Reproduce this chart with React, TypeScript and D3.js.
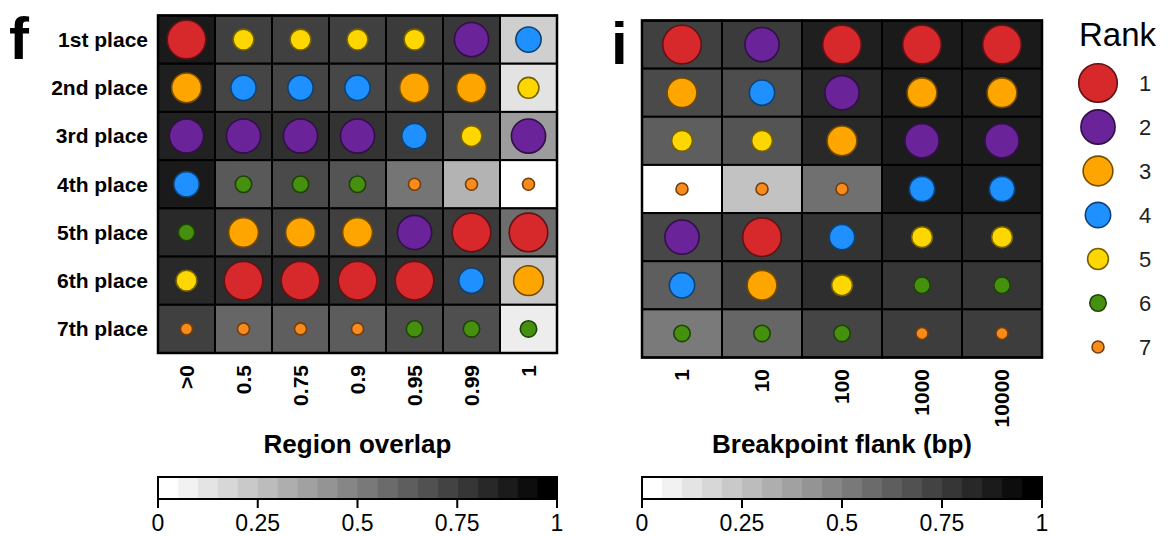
import React from "react";
import * as d3 from "d3";

// row categories (shared by both panels)
const places = ["1st place", "2nd place", "3rd place", "4th place", "5th place", "6th place", "7th place"];

// panel f: region overlap thresholds
const overlapLevels = [">0", "0.5", "0.75", "0.9", "0.95", "0.99", "1"];
// rank shown in each cell, one array per place
const overlapRanks = [
  [1, 5, 5, 5, 5, 2, 4],
  [3, 4, 4, 4, 3, 3, 5],
  [2, 2, 2, 2, 4, 5, 2],
  [4, 6, 6, 6, 7, 7, 7],
  [6, 3, 3, 3, 2, 1, 1],
  [5, 1, 1, 1, 1, 4, 3],
  [7, 7, 7, 7, 6, 6, 6],
];
// cell shading (0 = white, 1 = black)
const overlapShade = [
  [0.9, 0.75, 0.75, 0.75, 0.77, 0.78, 0.19],
  [0.88, 0.73, 0.73, 0.72, 0.75, 0.76, 0.11],
  [0.87, 0.81, 0.81, 0.8, 0.77, 0.68, 0.39],
  [0.9, 0.65, 0.71, 0.67, 0.54, 0.3, 0.0],
  [0.84, 0.75, 0.76, 0.75, 0.79, 0.77, 0.57],
  [0.84, 0.82, 0.83, 0.82, 0.82, 0.75, 0.21],
  [0.75, 0.6, 0.63, 0.64, 0.7, 0.69, 0.07],
];

// panel i: breakpoint flank sizes
const flankLevels = ["1", "10", "100", "1000", "10000"];
const flankRanks = [
  [1, 2, 1, 1, 1],
  [3, 4, 2, 3, 3],
  [5, 5, 3, 2, 2],
  [7, 7, 7, 4, 4],
  [2, 1, 4, 5, 5],
  [4, 3, 5, 6, 6],
  [6, 6, 6, 7, 7],
];
const flankShade = [
  [0.75, 0.77, 0.88, 0.9, 0.9],
  [0.71, 0.7, 0.84, 0.89, 0.89],
  [0.63, 0.67, 0.84, 0.89, 0.89],
  [0.0, 0.24, 0.56, 0.89, 0.89],
  [0.72, 0.76, 0.8, 0.84, 0.84],
  [0.63, 0.75, 0.82, 0.79, 0.79],
  [0.52, 0.6, 0.73, 0.76, 0.76],
];

const ranks = [1, 2, 3, 4, 5, 6, 7];
const rankColors = ["#d7282b", "#6a2399", "#ffa500", "#1e90ff", "#ffd700", "#45900f", "#f98a1c"];
const colorbarTicks = [0, 0.25, 0.5, 0.75, 1];

const FONT = "'Liberation Sans', Arial, Helvetica, sans-serif";
const W = 1169;
const H = 536;

// 20 step white->black colour key
const nSteps = 20;
const grays = d3.range(nSteps).map((i) => d3.interpolateRgb("#ffffff", "#000000")(i / (nSteps - 1)));
const shade = d3.scaleLinear<string>().domain([0, 1]).range(["#ffffff", "#000000"]);

const radius = d3.scaleLinear().domain([1, 7]).range([19.3, 6]);
const fill = d3.scaleOrdinal<number, string>().domain(ranks).range(rankColors);
const strokeOf = (r: number) => d3.color(fill(r))!.darker(2.2).formatHex();

type PanelProps = {
  cols: string[];
  rankRows: number[][];
  shadeRows: number[][];
  x0: number;
  x1: number;
  y0: number;
  y1: number;
  letter: string;
  letterX: number;
  showRows: boolean;
  title: string;
  tickTop: number;
};

function Panel(p: PanelProps) {
  const x = d3.scaleBand<string>().domain(p.cols).range([p.x0, p.x1]);
  const y = d3.scaleBand<string>().domain(places).range([p.y0, p.y1]);
  const cb = d3.scaleLinear().domain([0, 1]).range([p.x0, p.x1]);
  const cbTop = 477;
  const cbBot = 499;
  const stepW = (p.x1 - p.x0) / nSteps;
  return (
    <g>
      <text x={p.letterX} y={p.y0 + 43} fontSize={60} fontWeight="bold" fontFamily={FONT}>
        {p.letter}
      </text>
      {places.map((pl, i) =>
        p.cols.map((c, j) => (
          <rect
            key={pl + c}
            x={x(c)}
            y={y(pl)}
            width={x.bandwidth()}
            height={y.bandwidth()}
            fill={shade(p.shadeRows[i][j])}
            stroke="#000"
            strokeWidth={2}
          />
        ))
      )}
      <rect x={p.x0} y={p.y0} width={p.x1 - p.x0} height={p.y1 - p.y0} fill="none" stroke="#000" strokeWidth={2.5} />
      {places.map((pl, i) =>
        p.cols.map((c, j) => {
          const r = p.rankRows[i][j];
          return (
            <circle
              key={"c" + pl + c}
              cx={x(c)! + x.bandwidth() / 2}
              cy={y(pl)! + y.bandwidth() / 2}
              r={radius(r)}
              fill={fill(r)}
              stroke={strokeOf(r)}
              strokeWidth={1.6}
            />
          );
        })
      )}
      {p.showRows &&
        places.map((pl) => (
          <text
            key={"l" + pl}
            x={148}
            y={y(pl)! + y.bandwidth() / 2}
            dy="0.35em"
            textAnchor="end"
            fontSize={21}
            fontWeight="bold"
            fontFamily={FONT}
          >
            {pl}
          </text>
        ))}
      {p.cols.map((c) => (
        <text
          key={"t" + c}
          transform={`translate(${x(c)! + x.bandwidth() / 2},${p.tickTop}) rotate(-90)`}
          textAnchor="end"
          dy="0.35em"
          fontSize={21}
          fontWeight="bold"
          fontFamily={FONT}
        >
          {c}
        </text>
      ))}
      <text x={(p.x0 + p.x1) / 2} y={453} textAnchor="middle" fontSize={26} fontWeight="bold" fontFamily={FONT}>
        {p.title}
      </text>
      {grays.map((g, k) => (
        <rect key={"cb" + k} x={p.x0 + k * stepW} y={cbTop} width={stepW + 0.5} height={cbBot - cbTop} fill={g} />
      ))}
      <rect x={p.x0} y={cbTop} width={p.x1 - p.x0} height={cbBot - cbTop} fill="none" stroke="#000" strokeWidth={2} />
      {colorbarTicks.map((t) => (
        <g key={"ct" + t}>
          <line x1={cb(t)} x2={cb(t)} y1={cbBot} y2={cbBot + 9} stroke="#000" strokeWidth={2} />
          <text x={cb(t)} y={531} textAnchor="middle" fontSize={23} fontFamily={FONT}>
            {String(t)}
          </text>
        </g>
      ))}
    </g>
  );
}

function Legend() {
  const ly = d3.scalePoint<number>().domain(ranks).range([83, 347]);
  return (
    <g>
      <text x={1079} y={46} fontSize={33} fontFamily={FONT}>
        Rank
      </text>
      {ranks.map((r) => (
        <g key={"lg" + r}>
          <circle cx={1098} cy={ly(r)} r={radius(r)} fill={fill(r)} stroke={strokeOf(r)} strokeWidth={1.6} />
          <text x={1145} y={ly(r)} dy="0.35em" textAnchor="middle" fontSize={22} fontFamily={FONT} fill="#222">
            {r}
          </text>
        </g>
      ))}
    </g>
  );
}

export default function App() {
  return (
    <svg
      width={W}
      height={H}
      style={{ position: "absolute", left: 0, top: 0, background: "#fff" }}
    >
      <Panel
        cols={overlapLevels}
        rankRows={overlapRanks}
        shadeRows={overlapShade}
        x0={158}
        x1={557}
        y0={15.5}
        y1={353}
        letter="f"
        letterX={9}
        showRows={true}
        title="Region overlap"
        tickTop={365}
      />
      <Panel
        cols={flankLevels}
        rankRows={flankRanks}
        shadeRows={flankShade}
        x0={642}
        x1={1042}
        y0={20.5}
        y1={357.5}
        letter="i"
        letterX={611}
        showRows={false}
        title="Breakpoint flank (bp)"
        tickTop={369}
      />
      <Legend />
    </svg>
  );
}
